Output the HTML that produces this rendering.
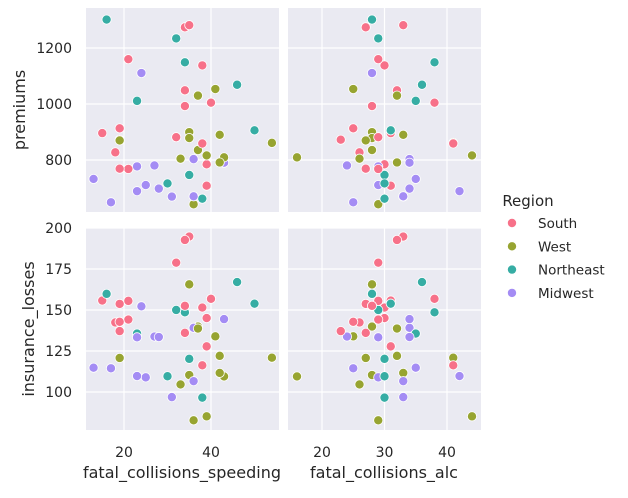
<!DOCTYPE html>
<html><head><meta charset="utf-8"><style>
body{margin:0;background:#fff;}
svg{font-family:"DejaVu Sans","Liberation Sans",sans-serif;}
</style></head><body>
<svg id="chart" width="628" height="493"></svg>
<script>
const states=["AL","AK","AZ","AR","CA","CO","CT","DE","DC","FL","GA","HI","ID","IL","IN","IA","KS","KY","LA","ME","MD","MA","MI","MN","MS","MO","MT","NE","NV","NH","NJ","NM","NY","NC","ND","OH","OK","OR","PA","RI","SC","SD","TN","TX","UT","VT","VA","WA","WV","WI","WY"];
const speeding=[39,41,35,18,35,37,46,38,34,21,19,54,36,36,25,17,27,19,35,38,34,23,24,23,15,43,39,13,37,35,16,19,32,39,23,28,32,33,50,34,38,31,21,40,43,30,19,42,34,36,42];
const alcohol=[30,25,28,26,28,28,36,30,27,29,25,41,29,34,29,25,24,23,33,30,32,35,28,29,31,34,44,35,32,30,28,27,29,31,42,34,29,26,31,38,41,33,29,38,16,30,27,33,28,33,32];
const premiums=[784.55,1053.48,899.47,827.34,878.41,835.50,1068.73,1137.87,1273.89,1160.13,913.15,861.18,641.96,803.11,710.46,649.06,780.45,872.51,1281.55,661.88,1048.78,1011.14,1110.61,777.18,896.07,790.32,816.21,732.28,1029.87,746.54,1301.52,869.85,1234.31,708.24,688.75,697.73,881.51,804.71,905.99,1148.99,858.97,669.31,767.91,1004.75,809.38,716.20,768.95,890.03,992.61,670.31,791.14];
const losses=[145.08,133.93,110.35,142.39,165.63,139.91,167.02,151.48,136.05,144.18,142.80,120.92,82.75,139.15,108.92,114.47,133.80,137.13,194.78,96.57,192.70,135.63,152.26,133.35,155.77,144.45,85.15,114.82,138.71,120.21,159.85,120.75,150.01,127.82,109.72,133.52,178.86,104.61,153.86,148.58,116.29,96.87,155.57,156.83,109.48,109.61,153.72,111.62,152.56,106.62,122.04];
const region=["South","West","West","South","West","West","Northeast","South","South","South","South","West","West","Midwest","Midwest","Midwest","Midwest","South","South","Northeast","South","Northeast","Midwest","Midwest","South","Midwest","West","Midwest","West","Northeast","Northeast","West","Northeast","South","Midwest","Midwest","South","West","Northeast","Northeast","South","Midwest","South","South","West","Northeast","South","West","South","Midwest","West"];
const regions=["South","West","Northeast","Midwest"];
const colors={South:"#f77189",West:"#97a431",Northeast:"#36ada4",Midwest:"#a48cf4"};
const speedTicks=[20,40];
const alcTicks=[20,30,40];
const premTicks=[800,1000,1200];
const lossTicks=[100,125,150,175,200];

const NS="http://www.w3.org/2000/svg";
const svg=document.getElementById('chart');
function mk(t,a,p){const e=document.createElementNS(NS,t);for(const k in a)e.setAttribute(k,a[k]);(p||svg).appendChild(e);return e;}
const xSpeed=v=>124+(v-20)*4.35;
const xAlc=v=>322+(v-20)*6.25;
const yPrem=v=>160-(v-800)*0.28;
const yLoss=v=>269-(v-175)*1.64;
const cols=[{x0:86,x1:279,f:xSpeed,ticks:speedTicks,data:speeding,name:"speeding"},{x0:288,x1:481,f:xAlc,ticks:alcTicks,data:alcohol,name:"alc"}];
const rows=[{y0:8,y1:212,f:yPrem,ticks:premTicks,data:premiums,name:"premiums"},{y0:228,y1:430,f:yLoss,ticks:lossTicks,data:losses,name:"losses"}];
rows.forEach((r,ri)=>{cols.forEach((c,ci)=>{
  const g=mk('g',{});
  
  
  mk('rect',{x:c.x0,y:r.y0,width:c.x1-c.x0,height:r.y1-r.y0,fill:'#eaeaf2'},g);
  c.ticks.forEach(t=>{const gl=mk('line',{x1:c.f(t),x2:c.f(t),y1:r.y0,y2:r.y1,stroke:'#fff','stroke-width':1.2},g);});
  r.ticks.forEach(t=>{const gl=mk('line',{x1:c.x0,x2:c.x1,y1:r.f(t),y2:r.f(t),stroke:'#fff','stroke-width':1.2},g);});
  for(let i=0;i<states.length;i++){
    const p=mk('circle',{cx:c.f(c.data[i]),cy:r.f(r.data[i]),r:4.6,fill:colors[region[i]],stroke:'#fff','stroke-width':0.8},g);
    
    
  }
});});
rows.forEach(r=>{r.ticks.forEach(t=>{const e=mk('text',{x:72,y:r.f(t)+5,'text-anchor':'end','font-size':14,fill:'#262626'});e.textContent=t;});});
cols.forEach(c=>{c.ticks.forEach(t=>{const e=mk('text',{x:c.f(t),y:457,'text-anchor':'middle','font-size':14,fill:'#262626'});e.textContent=t;});});
function lab(txt,x,y,rot,name){const e=mk('text',{x:x,y:y,'text-anchor':'middle','font-size':16,fill:'#262626',transform:rot?`rotate(-90 ${x} ${y})`:''});e.textContent=txt;}
lab('fatal_collisions_speeding',182,478,false,'x-axis-title-speeding');
lab('fatal_collisions_alc',384,478,false,'x-axis-title-alc');
lab('premiums',25,110,true,'y-axis-title-premiums');
lab('insurance_losses',34,329,true,'y-axis-title-losses');
const lg=mk('g',{});


const lt=mk('text',{x:528,y:206,'text-anchor':'middle','font-size':15,fill:'#262626'},lg);lt.textContent='Region';


regions.forEach((rg,i)=>{
  const y=223+i*23.3;
  const c=mk('circle',{cx:512,cy:y,r:4.6,fill:colors[rg],stroke:'#fff','stroke-width':0.8},lg);
  
  
  const t=mk('text',{x:538,y:y+5,'font-size':13.5,fill:'#262626'},lg);t.textContent=rg;
  
  
});
</script>
</body></html>
